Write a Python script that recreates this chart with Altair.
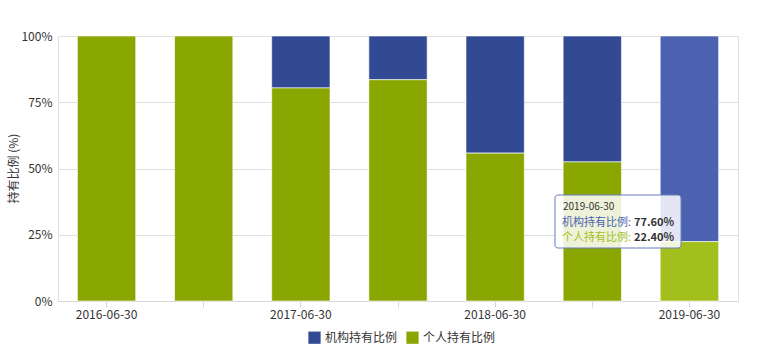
import altair as alt
import pandas as pd

dates = ["2016-06-30", "2016-12-31", "2017-06-30", "2017-12-31",
         "2018-06-30", "2018-12-31", "2019-06-30"]
inst = [0.0, 0.0, 19.6, 16.5, 44.2, 47.5, 77.6]
indiv = [100.0, 100.0, 80.4, 83.5, 55.8, 52.5, 22.4]
series = ["机构持有比例", "个人持有比例"]
colors = ["#324994", "#8aa600"]
hl_colors = ["#4a62b0", "#a3bf1b"]
shown_labels = ["2016-06-30", "2017-06-30", "2018-06-30", "2019-06-30"]
hover_date = "2019-06-30"

rows = []
for i, d in enumerate(dates):
    rows.append({"date": d, "series": series[0], "value": inst[i], "ord": 1,
                 "hl": hl_colors[0]})
    rows.append({"date": d, "series": series[1], "value": indiv[i], "ord": 0,
                 "hl": hl_colors[1]})
df = pd.DataFrame(rows)

FONT = "Noto Sans CJK SC"
label_expr = "indexof(" + str(shown_labels) + ", datum.value) >= 0 ? datum.value : ''"

x_enc = alt.X("date:N", sort=dates, title=None,
              scale=alt.Scale(paddingInner=0.4, paddingOuter=0.2),
              axis=alt.Axis(labelExpr=label_expr, labelAngle=0, labelColor="#333333",
                            labelFontSize=12, labelFont=FONT, tickColor="#d8d8d8",
                            tickSize=6, domainColor="#d8d8d8", labelPadding=2))
y_enc = alt.Y("value:Q", stack="zero", title="持有比例 (%)",
              scale=alt.Scale(domain=[0, 100], nice=False),
              axis=alt.Axis(values=[0, 25, 50, 75, 100], labelExpr="datum.value + '%'",
                            gridColor="#e0e0e0", domain=False, ticks=False,
                            labelPadding=6, labelColor="#333333", labelFontSize=12,
                            labelFont=FONT, titleFont=FONT, titleFontSize=12,
                            titleFontWeight="normal", titleColor="#333333",
                            titleX=-38, titleY=132))

base = alt.Chart(df).mark_bar(stroke="#ffffff", strokeWidth=1, strokeOpacity=0.6).encode(
    x=x_enc,
    y=y_enc,
    order=alt.Order("ord:Q"),
    color=alt.Color("series:N", scale=alt.Scale(domain=series, range=colors),
                    legend=alt.Legend(title=None, orient="none", direction="horizontal",
                                      legendX=250, legendY=295, symbolType="square",
                                      symbolSize=150, symbolStrokeWidth=0,
                                      labelFont=FONT, labelFontSize=12,
                                      labelColor="#333333", columnPadding=8,
                                      symbolOpacity=1)),
)

hl = alt.Chart(df[df["date"] == hover_date]).mark_bar(
    stroke="#ffffff", strokeWidth=1, strokeOpacity=0.6).encode(
    x=alt.X("date:N", sort=dates),
    y=alt.Y("value:Q", stack="zero"),
    order=alt.Order("ord:Q"),
    fill=alt.Fill("hl:N", scale=None),
)

tip = pd.DataFrame({"k": [0]})
box = alt.Chart(tip).mark_rect(cornerRadius=3, fill="#ffffff", fillOpacity=0.85,
                               stroke="#6b7cc0", strokeWidth=1).encode(
    x=alt.value(497), x2=alt.value(623), y=alt.value(159), y2=alt.value(212))
t1 = alt.Chart(tip).mark_text(align="left", baseline="middle", font=FONT, fontSize=10,
                              color="#333333").encode(
    x=alt.value(505), y=alt.value(171), text=alt.value(hover_date))
t2a = alt.Chart(tip).mark_text(align="right", baseline="middle", font=FONT, fontSize=11,
                               color=hl_colors[0]).encode(
    x=alt.value(573), y=alt.value(187), text=alt.value(series[0] + ":"))
t2b = alt.Chart(tip).mark_text(align="left", baseline="middle", font=FONT, fontSize=11,
                               fontWeight="bold", color="#333333").encode(
    x=alt.value(576), y=alt.value(187), text=alt.value(f"{inst[-1]:.2f}%"))
t3a = alt.Chart(tip).mark_text(align="right", baseline="middle", font=FONT, fontSize=11,
                               color=hl_colors[1]).encode(
    x=alt.value(573), y=alt.value(202), text=alt.value(series[1] + ":"))
t3b = alt.Chart(tip).mark_text(align="left", baseline="middle", font=FONT, fontSize=11,
                               fontWeight="bold", color="#333333").encode(
    x=alt.value(576), y=alt.value(202), text=alt.value(f"{indiv[-1]:.2f}%"))

chart = alt.layer(base, hl, box, t1, t2a, t2b, t3a, t3b).properties(
    width=680, height=265,
    autosize=alt.AutoSizeParams(type="none"),
    padding={"left": 58, "top": 36, "right": 24, "bottom": 51},
    background="#ffffff",
).configure_view(stroke="#e0e0e0")

chart.save("out.html", embed_options={"renderer": "svg", "actions": False})
